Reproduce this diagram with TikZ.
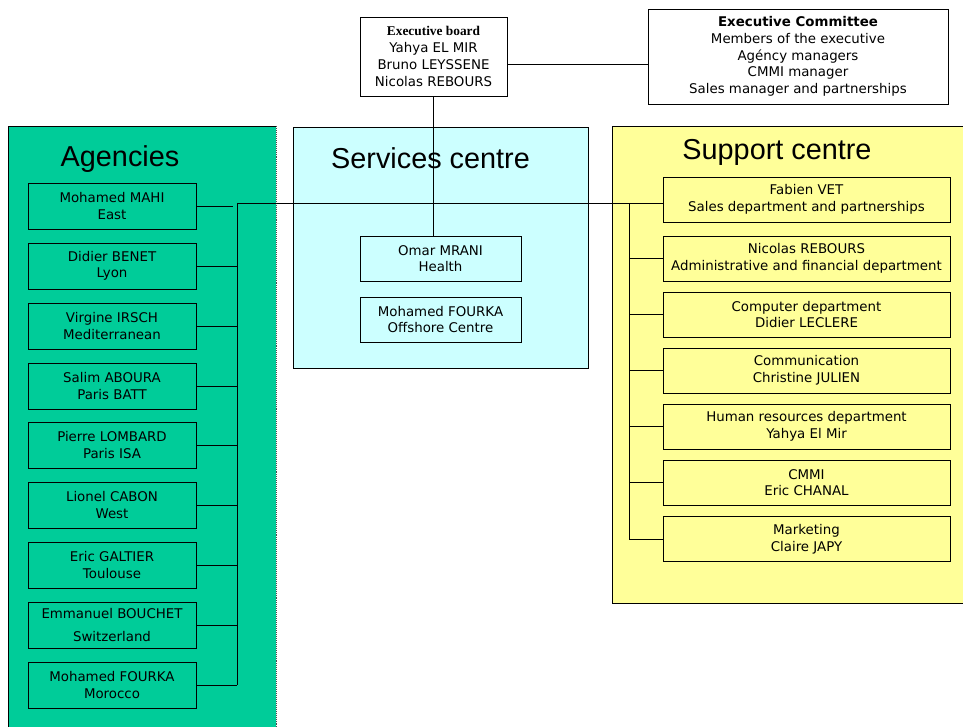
\documentclass[tikz,border=0pt]{standalone}
\usepackage{fontspec}
\setmainfont{DejaVu Sans}
\newfontfamily\headfont{Liberation Sans}
\newfontfamily\boardfont{Liberation Serif}
\usetikzlibrary{calc}

\definecolor{agencygreen}{RGB}{0,204,153}
\definecolor{servicecyan}{RGB}{204,255,255}
\definecolor{supportyellow}{RGB}{255,255,153}

\tikzset{
  person/.style={draw, line width=0.6pt, align=center, inner sep=0pt,
    font=\fontsize{9.5}{11.8}\selectfont},
  agency/.style={person, minimum width=4.2cm, minimum height=1.15cm},
  dept/.style={person, minimum width=7.175cm, minimum height=1.125cm},
  service/.style={person, minimum width=4.025cm, minimum height=1.125cm},
  heading/.style={anchor=base, font=\headfont\fontsize{20.5}{24}\selectfont},
  link/.style={line width=0.6pt}
}

\begin{document}
\begin{tikzpicture}[x=0.025cm, y=-0.025cm]
  \useasboundingbox (0,0) rectangle (963,727);
  \clip (0,0) rectangle (963,727);

  % Panels
  \fill[agencygreen] (8,126) rectangle (276,740);
  \draw[link] (8,740) -- (8,126) -- (276,126);
  \draw[densely dotted, gray!60!black] (276,126) -- (276,740);
  \filldraw[servicecyan, draw=black, line width=0.6pt] (293,127) rectangle (588,368);
  \fill[supportyellow] (612,126) rectangle (975,603);
  \draw[link] (975,126) -- (612,126) -- (612,603) -- (975,603);

  % Titles
  \node[heading] (agtitle) at (120,167) {Agencies};
  \node[heading] (svtitle) at (430.5,169) {Services centre};
  \node[heading] (sptitle) at (777,160) {Support centre};

  % Top
  \node[person, minimum width=3.675cm, minimum height=1.975cm, font=\fontsize{9.5}{11.9}\selectfont] (board) at (433.5,56.5)
    {{\boardfont\bfseries Executive board}\\Yahya EL MIR\\Bruno LEYSSENE\\Nicolas REBOURS};
  \node[person, minimum width=7.5cm, minimum height=2.375cm, font=\fontsize{9.5}{11.9}\selectfont] (committee) at (798,56.5)
    {\textbf{Executive Committee}\\Members of the executive\\Agéncy managers\\CMMI manager\\Sales manager and partnerships};

  % Services centre
  \node[service] (mrani) at (440.5,258.5) {Omar MRANI\\Health};
  \node[service] (offshore) at (440.5,319.5) {Mohamed FOURKA\\Offshore Centre};

  % Agencies
  \node[agency] (mahi) at (112,206) {Mohamed MAHI\\East};
  \node[agency] (benet) at (112,266) {Didier BENET\\Lyon};
  \node[agency] (irsch) at (112,326) {Virgine IRSCH\\Mediterranean};
  \node[agency] (aboura) at (112,386) {Salim ABOURA\\Paris BATT};
  \node[agency] (lombard) at (112,445) {Pierre LOMBARD\\Paris ISA};
  \node[agency] (cabon) at (112,505) {Lionel CABON\\West};
  \node[agency] (galtier) at (112,565) {Eric GALTIER\\Toulouse};
  \node[agency] (bouchet) at (112,625) {Emmanuel BOUCHET\\[5pt]Switzerland};
  \node[agency] (fourka) at (112,685) {Mohamed FOURKA\\Morocco};

  % Support centre
  \node[dept] (vet) at (806.5,199.5) {Fabien VET\\Sales department and partnerships};
  \node[dept] (rebours) at (806.5,258.5) {Nicolas REBOURS\\Administrative and financial department};
  \node[dept] (leclere) at (806.5,314.5) {Computer department\\Didier LECLERE};
  \node[dept] (julien) at (806.5,370.5) {Communication\\Christine JULIEN};
  \node[dept] (elmir) at (806.5,426.5) {Human resources department\\Yahya El Mir};
  \node[dept] (chanal) at (806.5,482.5) {CMMI\\Eric CHANAL};
  \node[dept] (japy) at (806.5,539) {Marketing\\Claire JAPY};

  % Connections
  \coordinate (agbus) at (237,203);
  \coordinate (spbus) at (629,203);
  \coordinate (mahiend) at (233,206);
  \draw[link] ($(board.east)+(0,7.5)$) -- ($(committee.west)+(0,7.5)$);
  \draw[link] (board.south) -- (board.south |- mrani.north);
  \draw[link] (agbus) -- (agbus -| vet.west);
  \draw[link] (agbus) -- (agbus |- fourka.east);
  \draw[link] (spbus) -- (spbus |- japy.west);
  \draw[link] (mahi.east) -- (mahiend);
  \foreach \a in {benet,irsch,aboura,lombard,cabon,galtier,bouchet,fourka}
    \draw[link] (\a.east) -- (\a.east -| agbus);
  \foreach \d in {rebours,leclere,julien,elmir,chanal,japy}
    \draw[link] (\d.west) -- (\d.west -| spbus);
\end{tikzpicture}
\end{document}
